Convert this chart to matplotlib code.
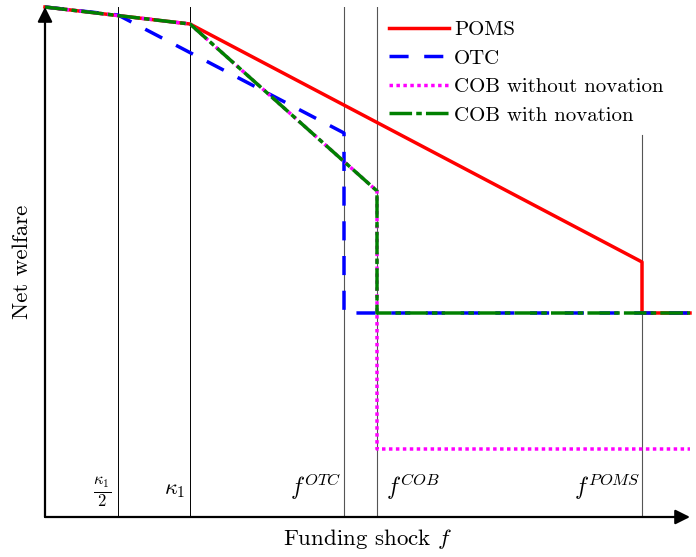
import matplotlib
matplotlib.use('Agg')
import matplotlib.pyplot as plt

plt.rcParams['font.family'] = ['cmr10', 'DejaVu Serif']
plt.rcParams['mathtext.fontset'] = 'cm'
plt.rcParams['axes.formatter.use_mathtext'] = True

# ── Thresholds on the funding-shock axis (arbitrary units) ──────────────────
K1_HALF = 0.73
K1      = 1.45
F_OTC   = 2.99
F_COB   = 3.32
F_POMS  = 5.97
X_MAX   = 6.45
Y_MAX   = 5.10

# ── Welfare curves ──────────────────────────────────────────────────────────
poms_x = [0, K1, F_POMS, F_POMS, X_MAX]
poms_y = [5.10, 4.93, 2.55, 2.04, 2.04]

otc_x = [0, K1_HALF, F_OTC, F_OTC, X_MAX]
otc_y = [5.10, 5.02, 3.84, 2.04, 2.04]

cob_wo_x = [0, K1, F_COB, F_COB, X_MAX]
cob_wo_y = [5.10, 4.93, 3.26, 0.68, 0.68]

cob_w_x = [0, K1, F_COB, F_COB, X_MAX]
cob_w_y = [5.10, 4.93, 3.26, 2.04, 2.04]

POMS_GUIDE_TOP = 3.82

fig = plt.figure(figsize=(6.96, 5.57), dpi=100)
ax = fig.add_axes([45 / 696, 40 / 557, 645 / 696, 510 / 557])
ax.set_xlim(0, X_MAX)
ax.set_ylim(0, Y_MAX)
for sp in ax.spines.values():
    sp.set_visible(False)
ax.set_xticks([])
ax.set_yticks([])

# guide lines
ax.axvline(K1_HALF, color='black', lw=0.7)
ax.axvline(K1, color='black', lw=0.7)
ax.axvline(F_OTC, color='#555555', lw=0.8)
ax.axvline(F_COB, color='#555555', lw=0.8)
ax.plot([F_POMS, F_POMS], [0, POMS_GUIDE_TOP], color='#555555', lw=0.8)

# curves
ax.plot(poms_x, poms_y, color='red', lw=2.5, label='POMS', clip_on=False)
ax.plot(otc_x, otc_y, color='blue', lw=2.5, ls=(0, (5.5, 4.5)),
        label='OTC', clip_on=False)
ax.plot(cob_wo_x, cob_wo_y, color='magenta', lw=2.5, ls=(0, (1, 1)),
        label='COB without novation', clip_on=False)
ax.plot(cob_w_x, cob_w_y, color='green', lw=2.5, ls=(0, (6.5, 1.2, 1.6, 1.2)),
        label='COB with novation', clip_on=False)

# axes with arrows
ax.annotate('', xy=(1.0, 0), xytext=(0, 0), xycoords='axes fraction',
            arrowprops=dict(arrowstyle='-|>', color='black', lw=1.6,
                            mutation_scale=22, shrinkA=0, shrinkB=0))
ax.annotate('', xy=(0, 1.0), xytext=(0, 0), xycoords='axes fraction',
            arrowprops=dict(arrowstyle='-|>', color='black', lw=1.6,
                            mutation_scale=22, shrinkA=0, shrinkB=0))

# threshold labels
lab_y = 0.27
ax.text(K1_HALF - 0.07, lab_y - 0.02, r'$\frac{\kappa_1}{2}$', ha='right', va='center', fontsize=17)
ax.text(K1 - 0.05, lab_y, r'$\kappa_1$', ha='right', va='center', fontsize=16)
ax.text(F_OTC - 0.03, lab_y + 0.03, r'$f^{OTC}$', ha='right', va='center', fontsize=17)
ax.text(F_COB + 0.09, lab_y + 0.03, r'$f^{COB}$', ha='left', va='center', fontsize=17)
ax.text(F_POMS - 0.02, lab_y + 0.03, r'$f^{POMS}$', ha='right', va='center', fontsize=17)

ax.set_xlabel(r'Funding shock $f$', fontsize=16.5, labelpad=7)
ax.set_ylabel('Net welfare', fontsize=16.5, labelpad=9)

ax.legend(loc='upper left', bbox_to_anchor=(0.52, 0.99), frameon=False,
          fontsize=15, handlelength=2.9, handletextpad=0.25,
          labelspacing=0.48, borderaxespad=0)

fig.savefig('out.png', dpi=100)
